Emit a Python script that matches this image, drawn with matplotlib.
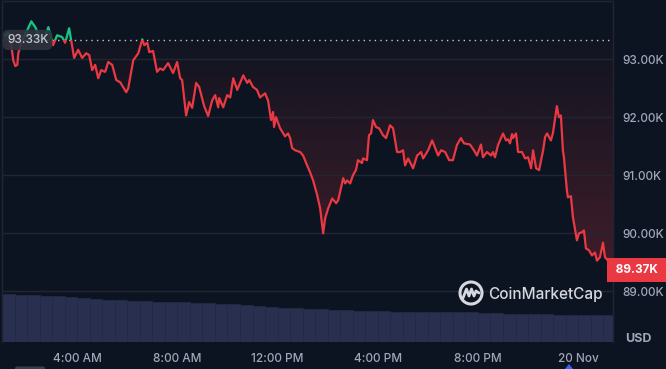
import numpy as np
import matplotlib
matplotlib.use("Agg")
import matplotlib.pyplot as plt
from matplotlib.patches import Polygon, Rectangle, Circle, FancyBboxPatch
from matplotlib.transforms import blended_transform_factory

plt.rcParams['font.family'] = ['Inter', 'DejaVu Sans']

# ---- data: hours since 19 Nov 00:00, price in K USD ----
times = [1.13, 1.25, 1.37, 1.45, 1.53, 1.61, 1.65, 1.81, 2.01, 2.17,
         2.33, 2.41, 2.57, 2.73, 2.85, 2.93, 3.04, 3.20, 3.40, 3.52,
         3.68, 3.76, 3.88, 4.04, 4.20, 4.36, 4.48, 4.60, 4.72, 4.84,
         4.96, 5.12, 5.24, 5.40, 5.56, 5.72, 5.96, 6.04, 6.24, 6.44,
         6.60, 6.68, 6.80, 6.88, 7.03, 7.19, 7.31, 7.43, 7.63, 7.83,
         7.99, 8.11, 8.19, 8.35, 8.47, 8.59, 8.75, 8.87, 9.07, 9.23,
         9.39, 9.51, 9.63, 9.67, 9.83, 9.99, 10.11, 10.23, 10.39, 10.63,
         10.79, 10.87, 11.02, 11.18, 11.30, 11.50, 11.62, 11.74, 11.82, 11.86,
         11.94, 12.10, 12.30, 12.42, 12.50, 12.58, 12.70, 12.90, 13.02, 13.18,
         13.30, 13.42, 13.58, 13.70, 13.82, 13.90, 14.02, 14.18, 14.34, 14.42,
         14.62, 14.70, 14.78, 14.90, 15.01, 15.13, 15.21, 15.37, 15.41, 15.57,
         15.65, 15.73, 15.81, 15.93, 16.05, 16.21, 16.33, 16.49, 16.61, 16.77,
         16.89, 17.01, 17.09, 17.21, 17.41, 17.57, 17.73, 17.81, 18.01, 18.17,
         18.29, 18.41, 18.53, 18.69, 18.85, 19.00, 19.16, 19.32, 19.44, 19.68,
         19.84, 19.96, 20.12, 20.20, 20.36, 20.52, 20.60, 20.68, 20.80, 21.00,
         21.12, 21.20, 21.28, 21.36, 21.40, 21.52, 21.60, 21.76, 21.88, 22.00,
         22.12, 22.20, 22.32, 22.44, 22.60, 22.68, 22.76, 22.91, 22.99, 23.15,
         23.23, 23.31, 23.39, 23.43, 23.55, 23.59, 23.71, 23.79, 23.95, 24.03,
         24.15, 24.23, 24.31, 24.43, 24.55, 24.67, 24.75, 24.87, 24.99, 25.07,
         25.19, 25.27, 25.39]
prices = [93.41, 93.45, 93.24, 92.98, 92.88, 92.90, 93.10, 93.33, 93.50, 93.65,
          93.55, 93.47, 93.36, 93.40, 93.55, 93.41, 93.24, 93.41, 93.38, 93.28,
          93.53, 93.33, 93.02, 93.16, 93.02, 93.10, 93.07, 92.81, 92.90, 92.67,
          92.81, 92.78, 92.95, 92.90, 92.64, 92.60, 92.43, 92.50, 92.98, 93.10,
          93.34, 93.24, 93.28, 93.12, 93.14, 92.78, 92.84, 92.81, 92.93, 92.76,
          92.95, 92.67, 92.64, 92.03, 92.26, 92.16, 92.59, 92.52, 92.19, 92.02,
          92.29, 92.38, 92.17, 92.33, 92.17, 92.38, 92.34, 92.67, 92.47, 92.72,
          92.59, 92.64, 92.52, 92.47, 92.34, 92.41, 92.29, 91.95, 92.09, 91.83,
          92.00, 91.81, 91.67, 91.72, 91.64, 91.47, 91.43, 91.40, 91.34, 91.17,
          91.05, 90.91, 90.66, 90.43, 90.00, 90.26, 90.43, 90.60, 90.52, 90.57,
          90.95, 90.86, 90.91, 90.86, 91.00, 91.09, 91.26, 91.21, 91.29, 91.26,
          91.69, 91.72, 91.95, 91.83, 91.81, 91.69, 91.64, 91.86, 91.81, 91.40,
          91.40, 91.43, 91.17, 91.29, 91.12, 91.34, 91.40, 91.29, 91.43, 91.60,
          91.47, 91.34, 91.43, 91.40, 91.26, 91.26, 91.52, 91.64, 91.55, 91.53,
          91.43, 91.34, 91.53, 91.31, 91.40, 91.34, 91.40, 91.31, 91.52, 91.72,
          91.60, 91.62, 91.55, 91.71, 91.64, 91.72, 91.40, 91.40, 91.29, 91.31,
          91.12, 91.43, 91.12, 91.09, 91.43, 91.66, 91.72, 91.60, 91.72, 92.19,
          92.00, 92.03, 91.43, 91.31, 90.74, 90.62, 90.64, 90.28, 89.88, 90.00,
          90.02, 90.05, 89.74, 89.71, 89.62, 89.67, 89.53, 89.59, 89.84, 89.59,
          89.53, 89.33, 89.37]

open_price = 93.33
last_price = 89.37

# 24h volume, sampled every half hour (billions USD)
volume = [96, 94, 94, 92, 92, 90, 88, 86, 84, 84,
          82, 82, 80, 80, 80, 78, 78, 76, 76, 74,
          72, 70, 68, 68, 66, 66, 64, 64, 62, 62,
          62, 60, 60, 60, 60, 60, 60, 60, 58, 58,
          56, 56, 56, 56, 54, 54, 54, 54, 54]
vol_times = np.arange(1.25, 25.3, 0.5)

ytick_vals = [89, 90, 91, 92, 93]
xtick_vals = [4, 8, 12, 16, 20, 24]
xtick_labels = ["4:00 AM", "8:00 AM", "12:00 PM", "4:00 PM", "8:00 PM", "20 Nov"]

BG = "#0d1421"
RED = "#ea3943"
GREEN = "#16c784"
GRID = "#222632"
TXT = "#a1a7bb"

W, H = 666, 369
fig = plt.figure(figsize=(W / 100, H / 100), dpi=100, facecolor=BG)
rect = [2 / W, (H - 342) / H, 611 / W, 341 / H]

# volume panel underneath
axv = fig.add_axes(rect, facecolor=BG)
axv.bar(vol_times, volume, width=0.5, color="#29304f", edgecolor="#232a46", linewidth=0.6)
axv.set_ylim(0, 96 * 341 / 48)
axv.axis("off")

ax = fig.add_axes(rect, sharex=axv)
ax.patch.set_alpha(0)
ax.set_xlim(1.0, 25.39)
ax.set_ylim(88.13, 94.0)

t = np.array(times)
p = np.array(prices)

# gradient fill between line and open price
low = np.minimum(p, open_price)
high = np.maximum(p, open_price)
poly_r = Polygon(np.column_stack([np.r_[t, t[::-1]], np.r_[low, np.full_like(t, open_price)]]),
                 closed=True, transform=ax.transData)
poly_g = Polygon(np.column_stack([np.r_[t, t[::-1]], np.r_[high, np.full_like(t, open_price)]]),
                 closed=True, transform=ax.transData)

n = 256
alpha_r = np.linspace(0.30, 0.02, n)
grad_r = np.zeros((n, 1, 4))
grad_r[..., :3] = matplotlib.colors.to_rgb(RED)
grad_r[:, 0, 3] = alpha_r
im = ax.imshow(grad_r, extent=[t[0], t[-1], 88.13, open_price], origin="lower",
               aspect="auto", zorder=1, interpolation="bilinear")
im.set_clip_path(poly_r)

grad_g = np.zeros((n, 1, 4))
grad_g[..., :3] = matplotlib.colors.to_rgb(GREEN)
grad_g[:, 0, 3] = np.linspace(0.02, 0.25, n)
im2 = ax.imshow(grad_g, extent=[t[0], t[-1], open_price, 93.7], origin="lower",
                aspect="auto", zorder=1, interpolation="bilinear")
im2.set_clip_path(poly_g)
ax.set_xlim(1.0, 25.39)
ax.set_ylim(88.13, 94.0)

# line: green above open, red below
clip_hi = Rectangle((0, open_price), 30, 10, transform=ax.transData)
clip_lo = Rectangle((0, 80), 30, open_price - 80, transform=ax.transData)
l1, = ax.plot(t, p, color=RED, lw=1.6, zorder=3, solid_joinstyle="round")
l1.set_clip_path(clip_lo)
l2, = ax.plot(t, p, color=GREEN, lw=1.6, zorder=3, solid_joinstyle="round")
l2.set_clip_path(clip_hi)

ax.axhline(open_price, color="#c5c8d0", lw=1.0, ls=(0, (1, 3)), zorder=2)

# axes styling
ax.set_yticks(ytick_vals)
ax.set_yticklabels([f"{v:.2f}K" for v in ytick_vals])
ax.yaxis.tick_right()
ax.set_xticks(xtick_vals)
ax.set_xticklabels(xtick_labels)
ax.tick_params(axis="y", length=0, pad=7, labelcolor=TXT, labelsize=8.5)
ax.tick_params(axis="x", length=0, pad=8, labelcolor=TXT, labelsize=8.5)
for lab in ax.get_xticklabels() + ax.get_yticklabels():
    lab.set_fontweight("medium")
ax.grid(axis="y", color=GRID, lw=1.0, zorder=0)
ax.grid(axis="x", visible=False)
for s in ["top", "left", "right"]:
    ax.spines[s].set_color("#222531")
    ax.spines[s].set_linewidth(1.0)
ax.spines["bottom"].set_visible(False)

trans = blended_transform_factory(ax.transAxes, ax.transData)
ax.text(0.008, open_price, "93.33K", transform=trans, ha="left", va="center",
        color="#c4c7d0", fontsize=8.5, fontweight="medium", zorder=5,
        bbox=dict(boxstyle="round,pad=0.35,rounding_size=0.5", fc="#30343f", ec="none", alpha=0.9))
ax.text(1.0, last_price, f" {last_price:.2f}K ", transform=trans, ha="left", va="center",
        color="white", fontsize=8.5, fontweight="bold", zorder=5, clip_on=False,
        bbox=dict(boxstyle="square,pad=0.5", fc=RED, ec="none"))

# overlay in pixel units for watermark and labels
ov = fig.add_axes([0, 0, 1, 1])
ov.set_xlim(0, W)
ov.set_ylim(H, 0)
ov.axis("off")
ov.patch.set_alpha(0)
wm = "#d5d8de"
ov.add_patch(Circle((471, 293), 11, fill=False, ec=wm, lw=2.2))
ov.plot([463, 466.5, 469, 471.5, 474, 476, 479],
        [298, 289, 296, 289, 296, 291, 293], color=wm, lw=2.0,
        solid_joinstyle="round", solid_capstyle="round")
ov.text(488, 294, "CoinMarketCap", color=wm, fontsize=11, fontweight="medium",
        ha="left", va="center")
ov.text(638, 339, "USD", color=TXT, fontsize=9, fontweight="bold", ha="center", va="center")
ov.add_patch(Polygon([[565, 369], [569, 364], [573, 369]], closed=True, fc="#3861fb", ec="none"))
ov.add_patch(FancyBboxPatch((15, 366.5), 30, 4, boxstyle="round,pad=0,rounding_size=2",
                            fc="#3a3f4d", ec="none"))

fig.savefig("out.png", dpi=100, facecolor=BG)
